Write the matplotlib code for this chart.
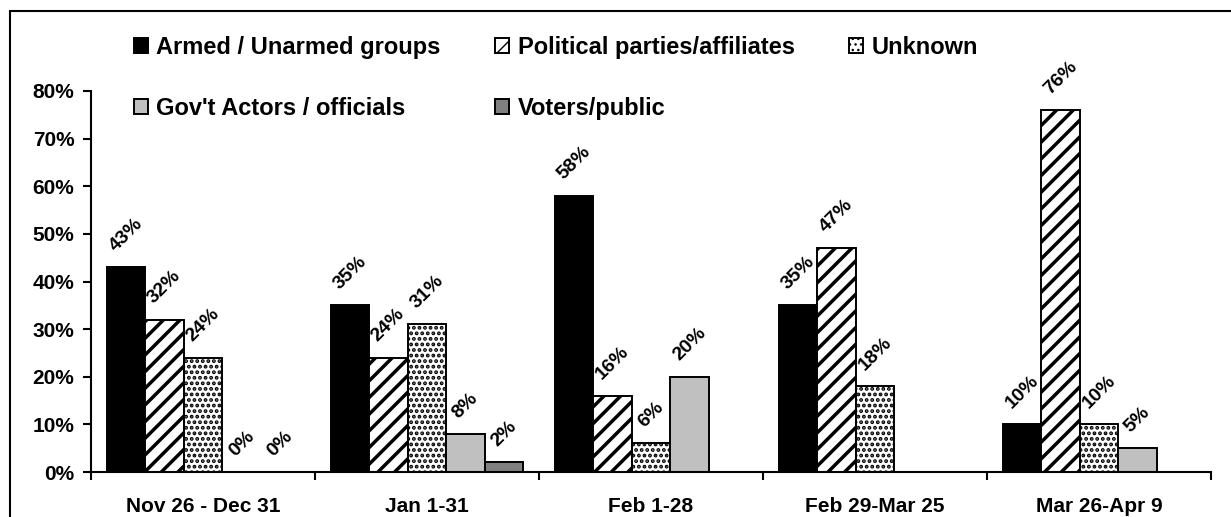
import matplotlib
matplotlib.use("Agg")
import matplotlib.pyplot as plt
import numpy as np
from matplotlib.patches import Rectangle

plt.rcParams["font.family"] = ["Liberation Sans", "DejaVu Sans"]
plt.rcParams["font.weight"] = "bold"

periods = ["Nov 26 - Dec 31", "Jan 1-31", "Feb 1-28", "Feb 29-Mar 25", "Mar 26-Apr 9"]
armed = [43, 35, 58, 35, 10]
political = [32, 24, 16, 47, 76]
unknown = [24, 31, 6, 18, 10]
govt = [0, 8, 20, None, 5]
voters = [0, 2, None, None, None]
yticks = [0, 10, 20, 30, 40, 50, 60, 70, 80]

series = [
    ("Armed / Unarmed groups", armed, dict(color="black", hatch=None, hlw=2.0)),
    ("Political parties/affiliates", political, dict(color="white", hatch="//", hlw=2.5)),
    ("Unknown", unknown, dict(color="white", hatch="...", hlw=1.9)),
    ("Gov't Actors / officials", govt, dict(color="#C0C0C0", hatch=None, hlw=2.0)),
    ("Voters/public", voters, dict(color="#808080", hatch=None, hlw=2.0)),
]

W, H = 1231, 517
fig = plt.figure(figsize=(W / 100, H / 100), dpi=100)
ax = fig.add_axes([91 / W, 45 / H, 1120 / W, 381 / H])

centers = np.arange(len(periods)) + 0.5
width = 0.172
handles = []
for i, (name, vals, style) in enumerate(series):
    offset = (i - 2) * width
    xs = [centers[j] + offset for j, v in enumerate(vals) if v is not None]
    hs = [v for v in vals if v is not None]
    with plt.rc_context({"hatch.linewidth": style["hlw"]}):
        bars = ax.bar(xs, hs, width, color=style["color"], edgecolor="black",
                      linewidth=1.4, hatch=style["hatch"], label=name)
    handles.append(bars)
    for b, v in zip(bars, hs):
        ax.annotate(f"{v}%", (b.get_x() + b.get_width() / 2, v),
                    xytext=(0, 9), textcoords="offset points",
                    ha="center", va="bottom", rotation=45,
                    fontsize=14, fontweight="bold")

ax.set_xlim(0, len(periods))
ax.set_ylim(0, 80)
ax.set_yticks(yticks)
ax.set_yticklabels([f"{t}%" for t in yticks])
ax.set_xticks(np.arange(len(periods) + 1))
ax.set_xticklabels([])
ax.set_xticks(centers, minor=True)
ax.set_xticklabels(periods, minor=True)

for s in ("top", "right"):
    ax.spines[s].set_visible(False)
for s in ("left", "bottom"):
    ax.spines[s].set_linewidth(1.5)

ax.tick_params(axis="x", which="major", length=6, width=1.5, direction="out")
ax.tick_params(axis="x", which="minor", length=0, pad=18, labelsize=15)
ax.tick_params(axis="y", length=6, width=1.5, pad=6, labelsize=15)

order = [0, 3, 1, 4, 2]
fig.legend([handles[k] for k in order], [series[k][0] for k in order],
           loc="upper left", bbox_to_anchor=(134 / W, 1 - 36 / H), ncol=3,
           frameon=False, fontsize=17, handlelength=0.6, handleheight=0.6,
           handletextpad=0.35, columnspacing=2.3, labelspacing=1.6,
           borderpad=0, borderaxespad=0)

fig.add_artist(Rectangle((10 / W, -0.5), 2, 1.5 - 11 / H, fill=False,
                         edgecolor="black", linewidth=1.5,
                         transform=fig.transFigure))

fig.savefig("out.png", dpi=100)
